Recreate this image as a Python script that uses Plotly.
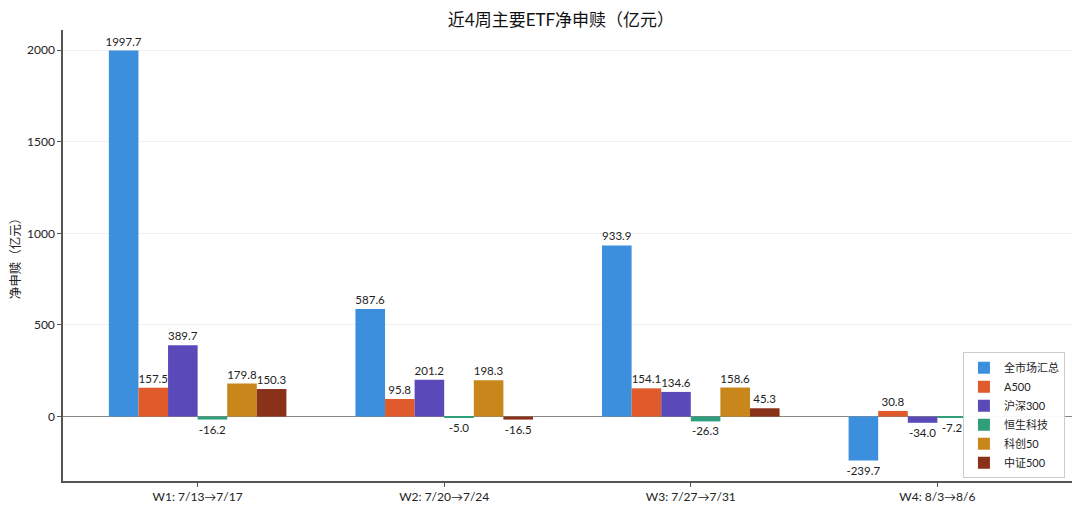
import plotly.graph_objects as go

# weekly net subscription / redemption of major ETFs (100m CNY)
weeks = ["W1: 7/13→7/17", "W2: 7/20→7/24", "W3: 7/27→7/31", "W4: 8/3→8/6"]

all_market = [1997.7, 587.6, 933.9, -239.7]
a500 = [157.5, 95.8, 154.1, 30.8]
hs300 = [389.7, 201.2, 134.6, -34.0]
hstech = [-16.2, -5.0, -26.3, -7.2]
kc50 = [179.8, 198.3, 158.6, None]   # W4 hidden behind the legend
zz500 = [150.3, -16.5, 45.3, None]

series = [
    ("全市场汇总", all_market, "#3b8fdc"),
    ("A500", a500, "#e05a2c"),
    ("沪深300", hs300, "#5a4ab9"),
    ("恒生科技", hstech, "#2e9e7b"),
    ("科创50", kc50, "#c8861b"),
    ("中证500", zz500, "#8a3119"),
]

font_family = "Lato, Noto Sans CJK SC, sans-serif"

fig = go.Figure()
for name, vals, color in series:
    fig.add_trace(go.Bar(
        name=name,
        x=weeks,
        y=vals,
        marker=dict(color=color, line=dict(width=0)),
        text=[None if v is None else f"{v:.1f}" for v in vals],
        textposition="outside",
        constraintext="none",
        textfont=dict(size=11.5, color="#222222"),
        cliponaxis=False,
    ))

# page body adds an 8px offset, margins compensate for it
fig.update_layout(
    width=1080,
    height=510,
    barmode="group",
    bargap=0.28,
    bargroupgap=0,
    plot_bgcolor="white",
    paper_bgcolor="white",
    font=dict(family=font_family, size=12, color="#222222"),
    margin=dict(l=55, r=16, t=22, b=37),
    title=dict(
        text="近4周主要ETF净申赎（亿元）",
        x=0.512, xanchor="center",
        yref="container", y=1, yanchor="top",
        pad=dict(t=6),
        font=dict(size=17, color="#111111"),
    ),
    xaxis=dict(
        range=[-0.546, 3.546],
        showline=True, linecolor="#555555", linewidth=1.5,
        ticks="outside", ticklen=4, tickcolor="#555555",
        showgrid=False, zeroline=False,
        tickfont=dict(size=12),
        automargin=False,
    ),
    yaxis=dict(
        range=[-351.6, 2109.6],
        tickvals=[0, 500, 1000, 1500, 2000],
        showline=True, linecolor="#555555", linewidth=1.5,
        ticks="outside", ticklen=4, tickcolor="#555555",
        showgrid=True, gridcolor="#f0f0f0", gridwidth=1,
        zeroline=True, zerolinecolor="#888888", zerolinewidth=1,
        title=dict(text="净申赎（亿元）", font=dict(size=12.5), standoff=7),
        tickfont=dict(size=12),
        automargin=False,
    ),
    legend=dict(
        x=0.993, xanchor="right",
        y=0.006, yanchor="bottom",
        bgcolor="rgba(255,255,255,0.95)",
        bordercolor="#cccccc", borderwidth=1,
        font=dict(size=11),
        tracegroupgap=0,
        itemwidth=30,
    ),
)

fig.write_html("out.html")
